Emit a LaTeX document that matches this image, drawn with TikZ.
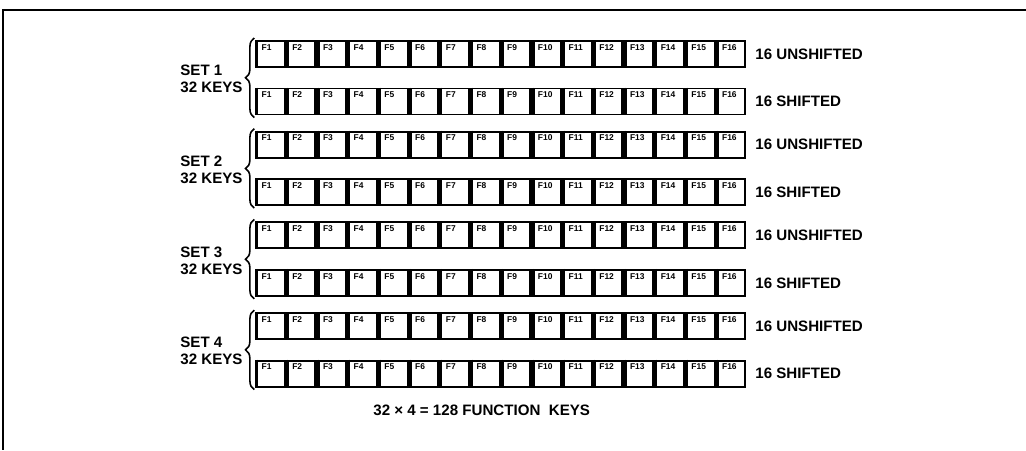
\documentclass[tikz,border=0pt]{standalone}
\usepackage{fontspec}
\setmainfont{Liberation Sans}
\usetikzlibrary{decorations.pathreplacing}
\tikzset{
  fkey/.style={draw,line width=1.1pt,minimum width=0.55cm,minimum height=0.52cm,inner sep=0pt},
  flabel/.style={anchor=north west,inner sep=0pt,font=\fontsize{4.8}{5}\selectfont\bfseries},
  rowlabel/.style={anchor=west,inner sep=0pt},
}
\begin{document}
\begin{tikzpicture}[x=0.02cm,y=-0.02cm,font=\fontsize{8.6}{9.7}\selectfont\bfseries]
  \useasboundingbox (0,0) rectangle (1026,450);
  % open frame
  \draw[line width=1pt] (1026,10) -- (3,10) -- (3,450);
  \foreach \s in {1,...,4} {
    \pgfmathsetmacro{\ytop}{41+90.7*(\s-1)}
    \foreach \r/\name in {0/UNSHIFTED,1/SHIFTED} {
      \pgfmathsetmacro{\yc}{\ytop+13+47.5*\r}
      \foreach \i in {1,...,16} {
        \node[fkey] (key-\s-\r-\i) at ({271+30.7*(\i-1)},\yc) {};
        \draw[line width=1.7pt] (key-\s-\r-\i.north west) -- (key-\s-\r-\i.south west);
        \node[flabel] (lbl-\s-\r-\i) at ([shift={(5,4)}]key-\s-\r-\i.north west) {F\i};
      }
      \node[rowlabel] (row-\s-\r) at (755,\yc) {16 \name};
    }
    \node[anchor=west,align=left,inner sep=0pt] (set-\s) at (180,\ytop+38) {SET \s\\32 KEYS};
    \draw[line width=0.9pt,decorate,decoration={brace,amplitude=5pt}]
      ([shift={(-2,2)}]key-\s-1-1.south west) -- ([shift={(-2,-2)}]key-\s-0-1.north west);
  }
  \node[rowlabel] (total) at (373,410) {32 × 4 = 128 FUNCTION\ \ KEYS};
\end{tikzpicture}
\end{document}
